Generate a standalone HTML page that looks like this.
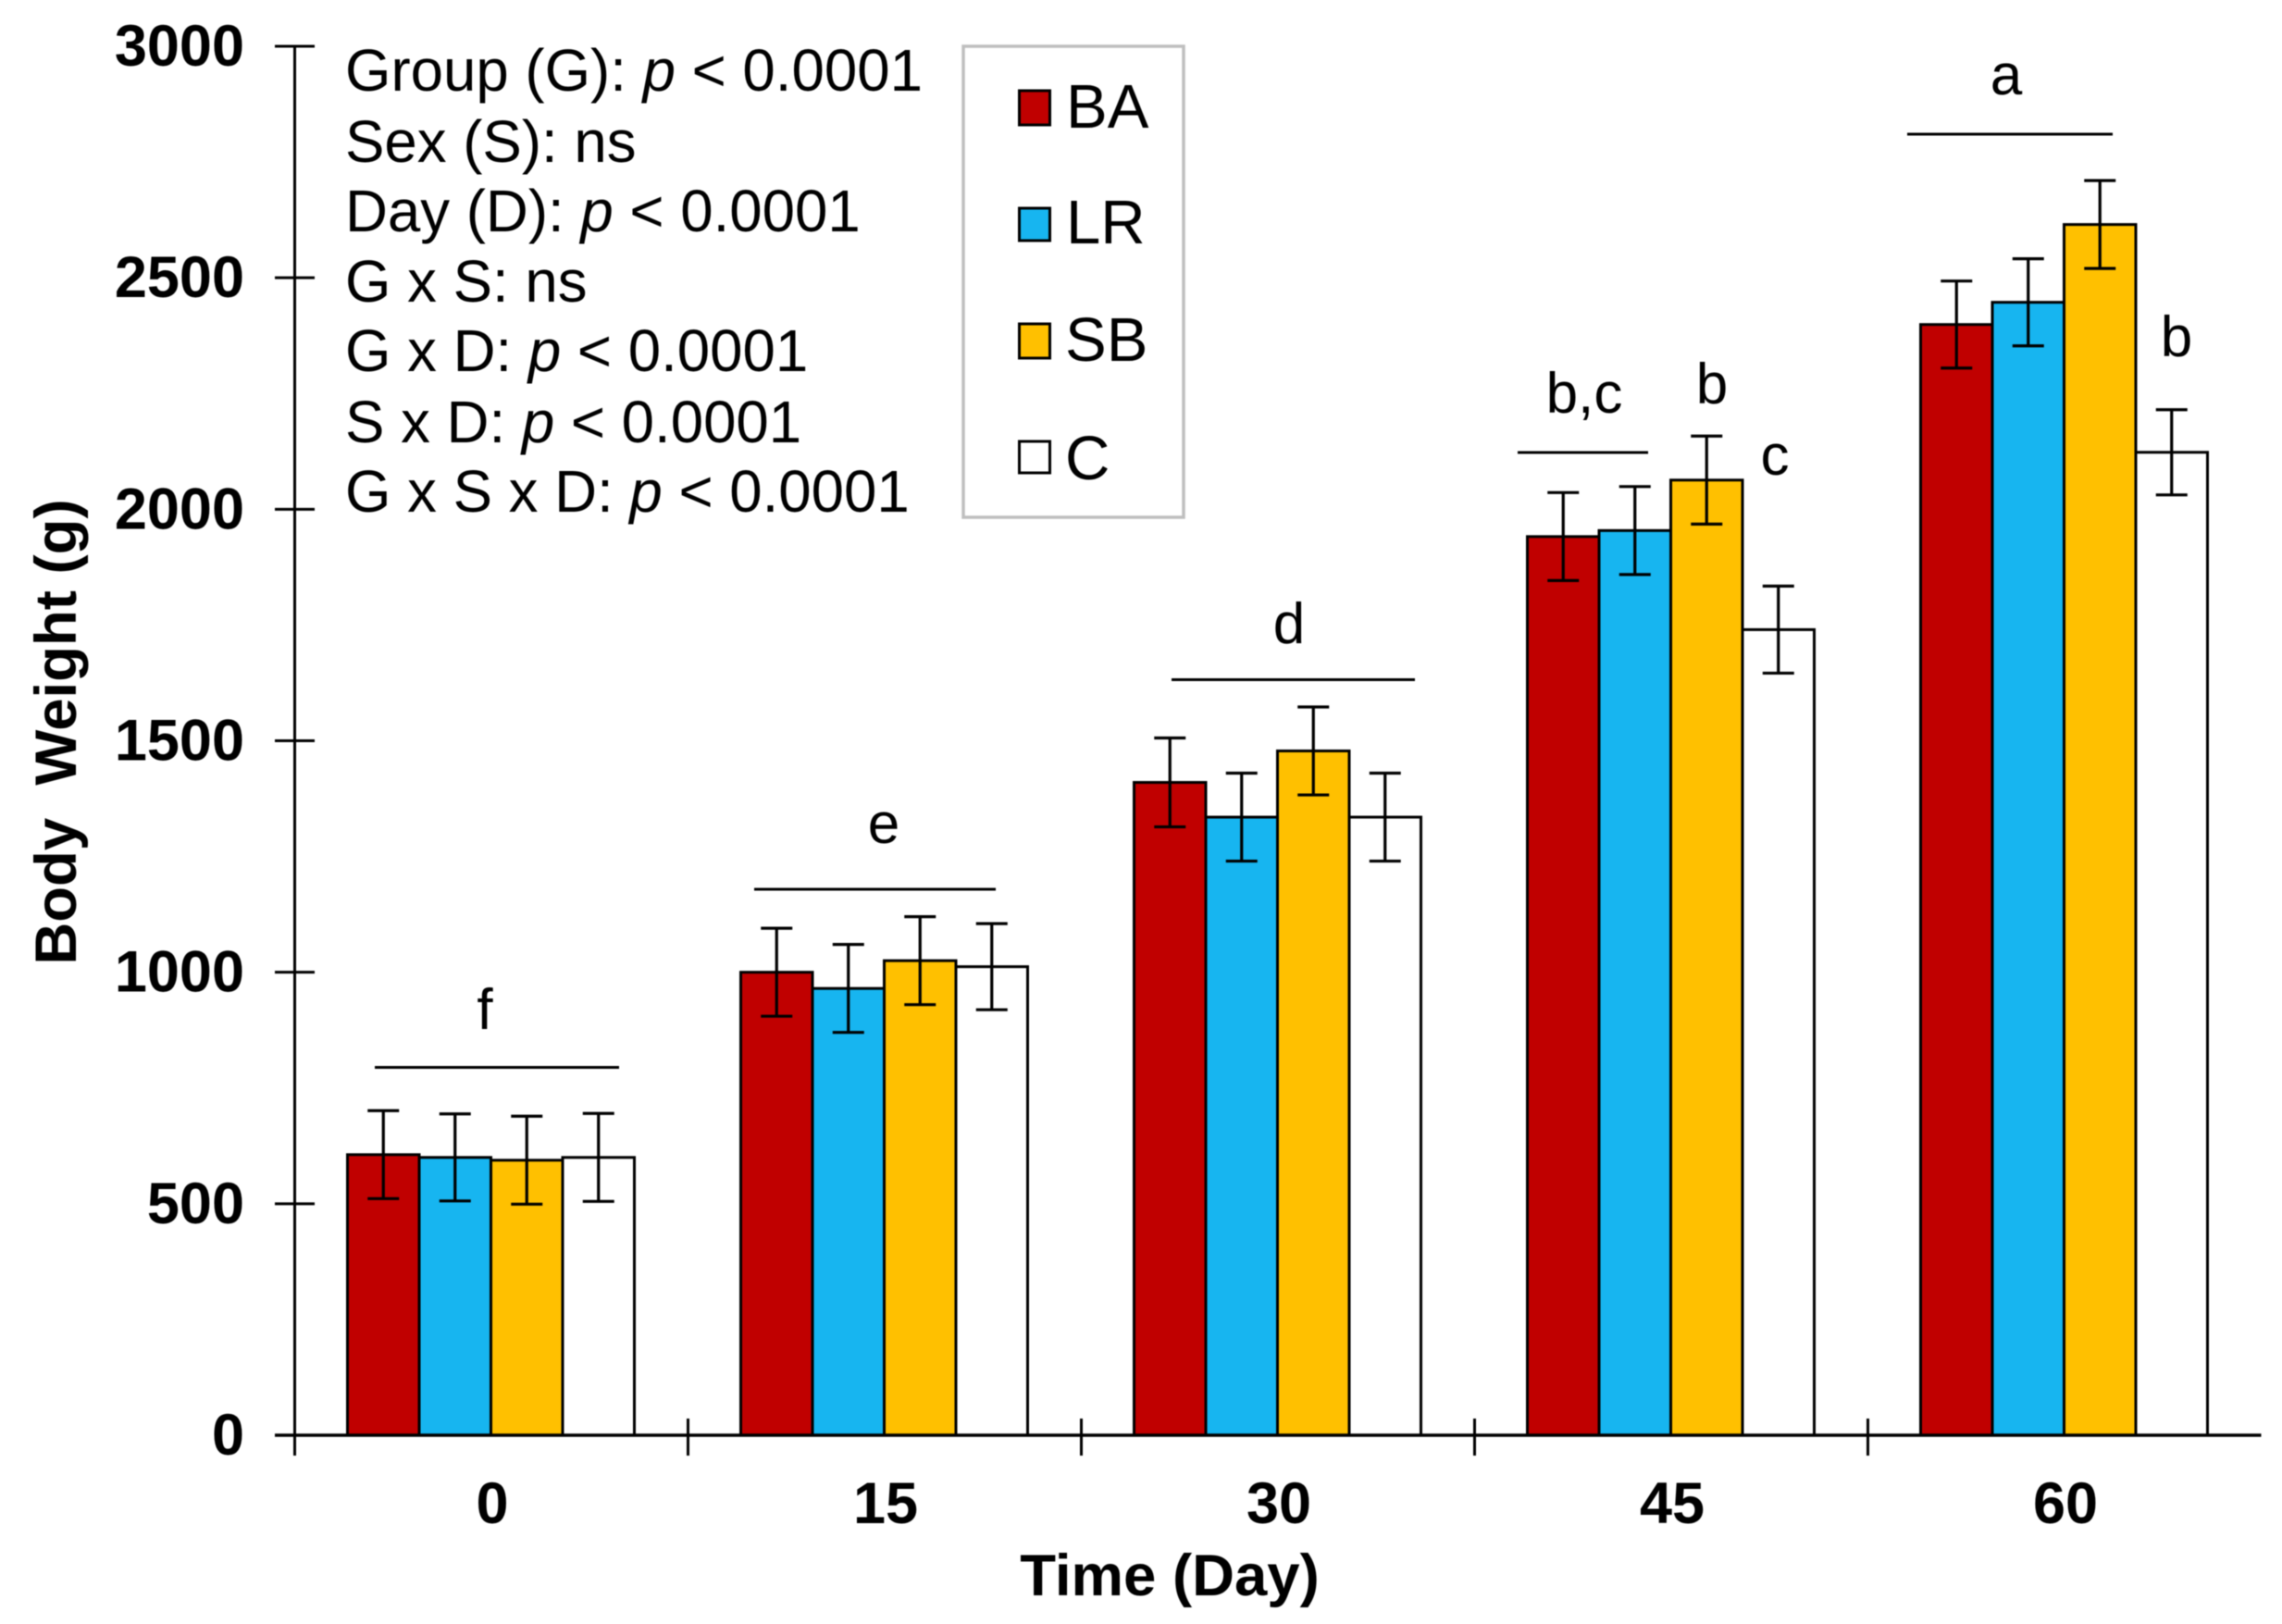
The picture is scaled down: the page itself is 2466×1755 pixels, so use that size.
<!DOCTYPE html>
<html lang="en">
<head>
<meta charset="utf-8">
<title>Body Weight by Time and Group</title>
<style>
html,body{margin:0;padding:0;background:#fff;}
svg{display:block;font-family:"Liberation Sans",Arial,sans-serif;filter:blur(0.5px);}
.tick{font-weight:bold;font-size:63px;fill:#000;}
.axis-title{font-weight:bold;font-size:63.5px;fill:#000;}
.stat{font-size:63.6px;fill:#000;}
.sig{font-size:62px;fill:#000;text-anchor:middle;}
.leg{font-size:67px;fill:#000;}
</style>
</head>
<body>
<svg id="chart" xmlns="http://www.w3.org/2000/svg" width="2466" height="1755" viewBox="0 0 2466 1755">
  <rect x="0" y="0" width="2466" height="1755" fill="#fff"/>
  <g id="bars"></g>
  <g id="errors"></g>
  <g id="axes"></g>
  <text class="axis-title" transform="translate(82,791) rotate(-90)" text-anchor="middle" xml:space="preserve">Body  Weight (g)</text>
  <text class="axis-title" x="1264" y="1724" text-anchor="middle">Time (Day)</text>

  <g>
    <text class="stat" x="373" y="98">Group (G): <tspan font-style="italic">p</tspan> &lt; 0.0001</text>
    <text class="stat" x="373" y="175">Sex (S): ns</text>
    <text class="stat" x="373" y="250">Day (D): <tspan font-style="italic">p</tspan> &lt; 0.0001</text>
    <text class="stat" x="373" y="326">G x S: ns</text>
    <text class="stat" x="373" y="401">G x D: <tspan font-style="italic">p</tspan> &lt; 0.0001</text>
    <text class="stat" x="373" y="478">S x D: <tspan font-style="italic">p</tspan> &lt; 0.0001</text>
    <text class="stat" x="373" y="553">G x S x D: <tspan font-style="italic">p</tspan> &lt; 0.0001</text>
  </g>

  <g>
    <rect x="1041" y="50" width="238" height="509" fill="#fff" stroke="#bfbfbf" stroke-width="3.5"/>
    <g>
      <rect x="1101.5" y="98" width="33" height="37" fill="#C00000" stroke="#000" stroke-width="3"/>
      <text class="leg" x="1152" y="138">BA</text>
    </g>
    <g>
      <rect x="1101.5" y="225" width="33" height="35" fill="#17B5F0" stroke="#000" stroke-width="3"/>
      <text class="leg" x="1152" y="263">LR</text>
    </g>
    <g>
      <rect x="1101.5" y="350" width="33" height="37" fill="#FFC000" stroke="#000" stroke-width="3"/>
      <text class="leg" x="1151" y="390">SB</text>
    </g>
    <g>
      <rect x="1101.5" y="477" width="33" height="34" fill="#fff" stroke="#000" stroke-width="3"/>
      <text class="leg" x="1151" y="518">C</text>
    </g>
  </g>

  <g stroke="#000" stroke-width="3">
    <line x1="405" x2="669" y1="1153.5" y2="1153.5"/>
    <line x1="815" x2="1076" y1="961" y2="961"/>
    <line x1="1266" x2="1529" y1="734.5" y2="734.5"/>
    <line x1="1640" x2="1781" y1="489" y2="489"/>
    <line x1="2061" x2="2283" y1="145" y2="145"/>
  </g>
  <g>
    <text class="sig" x="524" y="1112">f</text>
    <text class="sig" x="955" y="911">e</text>
    <text class="sig" x="1393" y="695">d</text>
    <text class="sig" x="1712" y="446">b,c</text>
    <text class="sig" x="1850" y="436">b</text>
    <text class="sig" x="1918" y="513">c</text>
    <text class="sig" x="2168" y="102">a</text>
    <text class="sig" x="2352" y="385">b</text>
  </g>
</svg>
<script>
var categories = ["0", "15", "30", "45", "60"];
var yTickLabels = [0, 500, 1000, 1500, 2000, 2500, 3000];
var seriesNames = ["BA", "LR", "SB", "C"];
var baValues = [606, 1000, 1410, 1941, 2399];
var lrValues = [600, 965, 1335, 1954, 2447];
var sbValues = [594, 1025, 1478, 2063, 2615];
var cValues = [600, 1012, 1335, 1740, 2123];
var baErrors = [95, 95, 96, 95, 94];
var lrErrors = [94, 95, 95, 95, 94];
var sbErrors = [95, 95, 95, 95, 95];
var cErrors = [95, 93, 95, 94, 92];
var seriesColors = ["#C00000", "#17B5F0", "#FFC000", "#FFFFFF"];

var NS = "http://www.w3.org/2000/svg";
var yMax = 3000, plotTop = 50, plotBottom = 1551;
var xLeft = 318.5, catWidth = 425, barWidth = 77.5, capHalf = 17;
var allValues = [baValues, lrValues, sbValues, cValues];
var allErrors = [baErrors, lrErrors, sbErrors, cErrors];

function yScale(v) { return plotBottom - (v / yMax) * (plotBottom - plotTop); }
function xCategory(i) { return xLeft + catWidth * i; }
function xCenter(i) { return xCategory(i) + catWidth / 2 - 0.5; }
function xBar(i, s) { return xCenter(i) - barWidth * 2 + barWidth * s; }
function make(tag, attrs, parent) {
  var el = document.createElementNS(NS, tag);
  for (var k in attrs) { el.setAttribute(k, attrs[k]); }
  parent.appendChild(el);
  return el;
}

var barsG = document.getElementById("bars");
var errG = document.getElementById("errors");
var axesG = document.getElementById("axes");

allValues.forEach(function (vals, s) {
  vals.forEach(function (v, i) {
    var bar = make("rect", {
      x: xBar(i, s), y: yScale(v), width: barWidth, height: plotBottom - yScale(v),
      fill: seriesColors[s], stroke: "#000", "stroke-width": 3
    }, barsG);
    
    

    var e = allErrors[s][i];
    var cx = xBar(i, s) + barWidth / 2;
    var g = make("g", { stroke: "#000", "stroke-width": 3.2 }, errG);
    
    
    make("line", { x1: cx, x2: cx, y1: yScale(v + e), y2: yScale(v - e) }, g);
    make("line", { x1: cx - capHalf, x2: cx + capHalf, y1: yScale(v + e), y2: yScale(v + e) }, g);
    make("line", { x1: cx - capHalf, x2: cx + capHalf, y1: yScale(v - e), y2: yScale(v - e) }, g);
  });
});

var yAxisLine = make("line", { x1: xLeft, x2: xLeft, y1: yScale(yMax), y2: 1573, stroke: "#000", "stroke-width": 3 }, axesG);



var xAxisLine = make("line", { x1: 297, x2: xCategory(categories.length), y1: plotBottom, y2: plotBottom, stroke: "#000", "stroke-width": 3.5 }, axesG);



yTickLabels.forEach(function (t) {
  var y = yScale(t);
  var tick = make("line", { x1: 297, x2: 340, y1: y, y2: y, stroke: "#000", "stroke-width": 3 }, axesG);
  
  
  var lab = make("text", { x: 264, y: y + 21, "text-anchor": "end", "class": "tick" }, axesG);
  
  
  lab.textContent = String(t);
});

for (var i = 1; i <= categories.length - 1; i++) {
  var tk = make("line", { x1: xCategory(i), x2: xCategory(i), y1: 1533, y2: 1573, stroke: "#000", "stroke-width": 3 }, axesG);
  
  
}

categories.forEach(function (c, i) {
  var lab = make("text", { x: xCenter(i) + 1.5, y: 1646, "text-anchor": "middle", "class": "tick" }, axesG);
  
  
  lab.textContent = c;
});
</script>
</body>
</html>
